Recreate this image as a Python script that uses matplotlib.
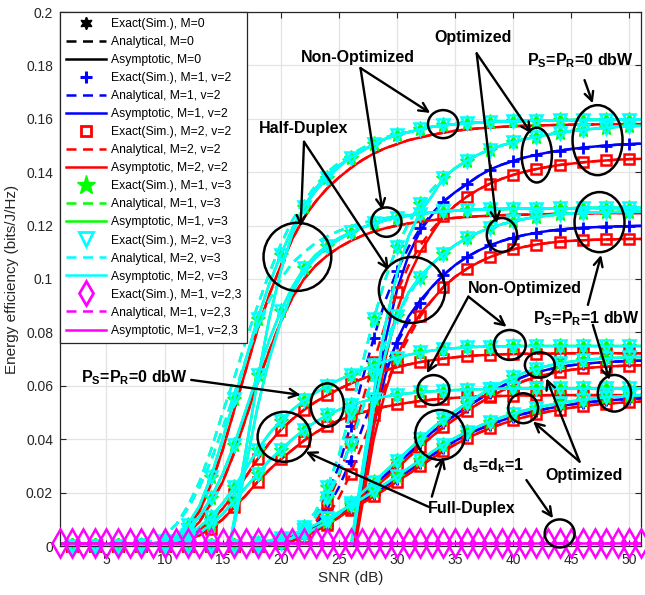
import numpy as np
import matplotlib
matplotlib.use('Agg')
import matplotlib.pyplot as plt
from matplotlib.lines import Line2D
from matplotlib.patches import Ellipse

plt.rcParams['font.family'] = ['Liberation Sans', 'DejaVu Sans']
plt.rcParams['mathtext.fontset'] = 'custom'
plt.rcParams['mathtext.rm'] = 'Liberation Sans'
plt.rcParams['mathtext.bf'] = 'Liberation Sans:bold'
plt.rcParams['mathtext.it'] = 'Liberation Sans:italic'

nan = np.nan
# ---------------- data (SNR = 1..51 dB) ----------------
snr = np.arange(1, 52)

# Half-duplex, non-optimized (upper, P=0 dBW)
g1_sim = [0, 0, 0, 0, 0, 0, 0, 0.0005, 0.001, 0.002,
          0.004, 0.008, 0.015, 0.026, 0.040, 0.055, 0.070, 0.085, 0.098, 0.109,
          0.119, 0.127, 0.133, 0.138, 0.142, 0.1455, 0.148, 0.1505, 0.1525, 0.154,
          0.155, 0.156, 0.157, 0.1575, 0.158, 0.1583, 0.1586, 0.1588, 0.159, 0.1591,
          0.1592, 0.1593, 0.1594, 0.1595, 0.1595, 0.1596, 0.1596, 0.1597, 0.1597, 0.1597, 0.1597]
g1_ana = [0, 0, 0, 0, 0, 0, 0, 0.001, 0.002, 0.004,
          0.008, 0.015, 0.024, 0.036, 0.050, 0.063, 0.077, 0.090, 0.102, 0.113,
          0.122, 0.129, 0.135, 0.140, 0.1435, 0.1465, 0.149, 0.151, 0.153, 0.1545,
          0.155, 0.156, 0.157, 0.1575, 0.158, 0.1583, 0.1586, 0.1588, 0.159, 0.1591,
          0.1592, 0.1593, 0.1594, 0.1595, 0.1595, 0.1596, 0.1596, 0.1597, 0.1597, 0.1597, 0.1597]
g1_red = [0, 0, 0, 0, 0, 0, 0, 0, 0.0005, 0.001,
          0.003, 0.007, 0.013, 0.023, 0.036, 0.051, 0.066, 0.081, 0.094, 0.105,
          0.115, 0.123, 0.129, 0.134, 0.138, 0.1415, 0.1445, 0.147, 0.149, 0.1505,
          0.152, 0.153, 0.154, 0.1548, 0.1555, 0.156, 0.1564, 0.1567, 0.157, 0.1572,
          0.1574, 0.1575, 0.1576, 0.1577, 0.1578, 0.1579, 0.1579, 0.158, 0.158, 0.158, 0.158]
hd_asy1 = [nan] * 14 + [
          -0.014, 0.010, 0.036, 0.062, 0.085, 0.103,
          0.117, 0.127, 0.134, 0.139, 0.1425, 0.1455, 0.148, 0.1505, 0.1525, 0.154,
          0.155, 0.156, 0.157, 0.1575, 0.158, 0.1583, 0.1586, 0.1588, 0.159, 0.1591,
          0.1592, 0.1593, 0.1594, 0.1595, 0.1595, 0.1596, 0.1596, 0.1597, 0.1597, 0.1597, 0.1597]

# Half-duplex, non-optimized (lower)
g2_sim = [0, 0, 0, 0, 0, 0, 0, 0, 0.0005, 0.001,
          0.003, 0.006, 0.011, 0.018, 0.027, 0.038, 0.051, 0.064, 0.077, 0.088,
          0.097, 0.104, 0.109, 0.1125, 0.1153, 0.1175, 0.1193, 0.1208, 0.122, 0.123,
          0.1238, 0.1244, 0.1249, 0.1253, 0.1256, 0.1258, 0.126, 0.1261, 0.1262, 0.1263,
          0.1264, 0.1264, 0.1265, 0.1265, 0.1265, 0.1266, 0.1266, 0.1266, 0.1266, 0.1266, 0.1266]
g2_ana = [0, 0, 0, 0, 0, 0, 0, 0.0005, 0.002, 0.004,
          0.008, 0.014, 0.022, 0.032, 0.044, 0.057, 0.070, 0.082, 0.092, 0.100,
          0.106, 0.110, 0.1135, 0.116, 0.118, 0.1197, 0.121, 0.122, 0.1228, 0.1234,
          0.1238, 0.1244, 0.1249, 0.1253, 0.1256, 0.1258, 0.126, 0.1261, 0.1262, 0.1263,
          0.1264, 0.1264, 0.1265, 0.1265, 0.1265, 0.1266, 0.1266, 0.1266, 0.1266, 0.1266, 0.1266]
g2_red = [0, 0, 0, 0, 0, 0, 0, 0, 0, 0.0005,
          0.002, 0.005, 0.009, 0.016, 0.024, 0.035, 0.048, 0.061, 0.073, 0.084,
          0.093, 0.100, 0.105, 0.1088, 0.1118, 0.1142, 0.1162, 0.1178, 0.119, 0.120,
          0.1208, 0.1215, 0.122, 0.1225, 0.1229, 0.1232, 0.1235, 0.1237, 0.1239, 0.124,
          0.1241, 0.1242, 0.1243, 0.1244, 0.1245, 0.1245, 0.1246, 0.1246, 0.1247, 0.1247, 0.1247]
hd_asy2 = [nan] * 14 + [
          -0.012, 0.008, 0.030, 0.052, 0.070, 0.084,
          0.095, 0.103, 0.108, 0.112, 0.1148, 0.1172, 0.1192, 0.1207, 0.122, 0.123,
          0.1238, 0.1244, 0.1249, 0.1253, 0.1256, 0.1258, 0.126, 0.1261, 0.1262, 0.1263,
          0.1264, 0.1264, 0.1265, 0.1265, 0.1265, 0.1266, 0.1266, 0.1266, 0.1266, 0.1266, 0.1266]

# Full-duplex, non-optimized
g3_sim = [0, 0, 0, 0, 0, 0, 0, 0, 0.0005, 0.001,
          0.002, 0.004, 0.007, 0.011, 0.016, 0.022, 0.029, 0.036, 0.042, 0.047,
          0.051, 0.0545, 0.0575, 0.060, 0.0622, 0.0642, 0.066, 0.0677, 0.0692, 0.0705,
          0.0716, 0.0725, 0.0732, 0.0737, 0.0741, 0.0744, 0.0746, 0.0747, 0.0748, 0.0748,
          0.0749, 0.0749, 0.0749, 0.0749, 0.0749, 0.0749, 0.0749, 0.0749, 0.0749, 0.0749, 0.0749]
g3_red = [0, 0, 0, 0, 0, 0, 0, 0, 0, 0.0005,
          0.0015, 0.003, 0.006, 0.0095, 0.014, 0.0195, 0.026, 0.0325, 0.0385, 0.0435,
          0.0475, 0.051, 0.054, 0.0565, 0.0588, 0.0608, 0.0626, 0.0643, 0.0658, 0.067,
          0.068, 0.0689, 0.0696, 0.0702, 0.0707, 0.0711, 0.0714, 0.0716, 0.0718, 0.0719,
          0.072, 0.072, 0.0721, 0.0721, 0.0722, 0.0722, 0.0722, 0.0722, 0.0722, 0.0722, 0.0722]
g4_sim = [0, 0, 0, 0, 0, 0, 0, 0, 0.0005, 0.001,
          0.002, 0.003, 0.005, 0.008, 0.012, 0.017, 0.022, 0.027, 0.032, 0.036,
          0.040, 0.0435, 0.0465, 0.049, 0.051, 0.0527, 0.054, 0.0551, 0.056, 0.0567,
          0.0572, 0.0576, 0.0579, 0.0582, 0.0584, 0.0586, 0.0587, 0.0588, 0.0589, 0.059,
          0.059, 0.059, 0.059, 0.059, 0.059, 0.059, 0.059, 0.059, 0.059, 0.059, 0.059]
g4_red = [0, 0, 0, 0, 0, 0, 0, 0, 0, 0.0005,
          0.0015, 0.0025, 0.004, 0.0065, 0.010, 0.0145, 0.019, 0.024, 0.0285, 0.0325,
          0.036, 0.0395, 0.0425, 0.045, 0.047, 0.0487, 0.050, 0.0512, 0.0522, 0.053,
          0.0537, 0.0543, 0.0548, 0.0552, 0.0555, 0.0558, 0.056, 0.0561, 0.0562, 0.0563,
          0.0564, 0.0564, 0.0565, 0.0565, 0.0565, 0.0565, 0.0565, 0.0565, 0.0565, 0.0565, 0.0565]

# Half-duplex, optimized (upper)
o1_blue = [0] * 19 + [0.001,
           0.003, 0.006, 0.011, 0.019, 0.030, 0.045, 0.062, 0.078, 0.092, 0.103,
           0.112, 0.119, 0.1245, 0.129, 0.1325, 0.1355, 0.1385, 0.141, 0.1428, 0.1442,
           0.1455, 0.1465, 0.1474, 0.1481, 0.1487, 0.1492, 0.1496, 0.150, 0.1503, 0.1505, 0.1507]
o1_red = [0] * 19 + [0.001,
          0.002, 0.005, 0.009, 0.016, 0.026, 0.039, 0.054, 0.069, 0.083, 0.095,
          0.105, 0.1125, 0.1185, 0.1235, 0.1275, 0.1308, 0.1335, 0.1357, 0.1375, 0.139,
          0.1402, 0.1412, 0.142, 0.1427, 0.1432, 0.1437, 0.1441, 0.1444, 0.1447, 0.1449, 0.145]
o1_cyan = [0] * 19 + [0.001,
           0.003, 0.007, 0.013, 0.022, 0.034, 0.050, 0.068, 0.085, 0.100, 0.112,
           0.121, 0.128, 0.1335, 0.138, 0.1415, 0.1443, 0.1466, 0.1485, 0.150, 0.1513,
           0.1524, 0.1533, 0.1541, 0.1548, 0.1554, 0.1559, 0.1563, 0.1567, 0.157, 0.1572, 0.1574]
o1_blue_asy = [nan] * 25 + [-0.004, 0.024, 0.052, 0.077, 0.096,
               0.109, 0.118, 0.124, 0.129, 0.1325, 0.1355, 0.1385, 0.141, 0.1428, 0.1442,
               0.1455, 0.1465, 0.1474, 0.1481, 0.1487, 0.1492, 0.1496, 0.150, 0.1503, 0.1505, 0.1507]
o1_red_asy = [nan] * 25 + [-0.008, 0.018, 0.045, 0.070, 0.088,
              0.101, 0.110, 0.117, 0.1235, 0.1275, 0.1308, 0.1335, 0.1357, 0.1375, 0.139,
              0.1402, 0.1412, 0.142, 0.1427, 0.1432, 0.1437, 0.1441, 0.1444, 0.1447, 0.1449, 0.145]
o1_cyan_asy = [nan] * 25 + [-0.001, 0.028, 0.057, 0.083, 0.102,
               0.116, 0.125, 0.131, 0.138, 0.1415, 0.1443, 0.1466, 0.1485, 0.150, 0.1513,
               0.1524, 0.1533, 0.1541, 0.1548, 0.1554, 0.1559, 0.1563, 0.1567, 0.157, 0.1572, 0.1574]

# Half-duplex, optimized (lower)
o2_blue = [0] * 19 + [0.001,
           0.002, 0.004, 0.008, 0.014, 0.022, 0.032, 0.044, 0.056, 0.067, 0.076,
           0.084, 0.091, 0.097, 0.1015, 0.1052, 0.1082, 0.1106, 0.1126, 0.1142, 0.1155,
           0.1165, 0.1173, 0.118, 0.1185, 0.1189, 0.1192, 0.1194, 0.1196, 0.1197, 0.1198, 0.1199]
o2_red = [0] * 19 + [0.001,
          0.002, 0.003, 0.006, 0.011, 0.018, 0.027, 0.038, 0.049, 0.060, 0.070,
          0.078, 0.086, 0.092, 0.097, 0.1008, 0.1038, 0.1062, 0.1082, 0.1098, 0.1111,
          0.1121, 0.1129, 0.1135, 0.114, 0.1143, 0.1145, 0.1147, 0.1148, 0.1149, 0.115, 0.115]
o2_cyan = [0] * 19 + [0.001,
           0.003, 0.006, 0.011, 0.018, 0.027, 0.038, 0.051, 0.064, 0.076, 0.086,
           0.094, 0.1005, 0.1055, 0.1095, 0.1127, 0.1153, 0.1174, 0.1191, 0.1205, 0.1216,
           0.1225, 0.1232, 0.1238, 0.1242, 0.1245, 0.1247, 0.1249, 0.125, 0.1251, 0.1252, 0.1252]
o2_blue_asy = [nan] * 25 + [-0.006, 0.020, 0.045, 0.064, 0.077,
               0.086, 0.092, 0.097, 0.1015, 0.1052, 0.1082, 0.1106, 0.1126, 0.1142, 0.1155,
               0.1165, 0.1173, 0.118, 0.1185, 0.1189, 0.1192, 0.1194, 0.1196, 0.1197, 0.1198, 0.1199]
o2_red_asy = [nan] * 25 + [-0.010, 0.015, 0.040, 0.058, 0.071,
              0.080, 0.087, 0.092, 0.097, 0.1008, 0.1038, 0.1062, 0.1082, 0.1098, 0.1111,
              0.1121, 0.1129, 0.1135, 0.114, 0.1143, 0.1145, 0.1147, 0.1148, 0.1149, 0.115, 0.115]
o2_cyan_asy = [nan] * 25 + [-0.003, 0.025, 0.052, 0.072, 0.086,
               0.095, 0.101, 0.1055, 0.1095, 0.1127, 0.1153, 0.1174, 0.1191, 0.1205, 0.1216,
               0.1225, 0.1232, 0.1238, 0.1242, 0.1245, 0.1247, 0.1249, 0.125, 0.1251, 0.1252, 0.1252]

# Full-duplex, optimized
o3_cyan = [0] * 18 + [0.001, 0.002,
           0.003, 0.0045, 0.0065, 0.009, 0.012, 0.016, 0.020, 0.024, 0.028, 0.032,
           0.036, 0.040, 0.044, 0.0475, 0.0505, 0.0535, 0.0562, 0.0588, 0.0612, 0.0632,
           0.065, 0.0664, 0.0675, 0.0684, 0.0691, 0.0696, 0.070, 0.0703, 0.0705, 0.0707, 0.0708]
o3_blue = [0] * 18 + [0.0008, 0.0015,
           0.0025, 0.004, 0.006, 0.0085, 0.0113, 0.015, 0.0188, 0.0226, 0.0265, 0.0305,
           0.0345, 0.0385, 0.0425, 0.046, 0.049, 0.052, 0.0548, 0.0574, 0.0598, 0.0618,
           0.0636, 0.065, 0.0661, 0.067, 0.0677, 0.0682, 0.0686, 0.0689, 0.0691, 0.0693, 0.0694]
o3_red = [0] * 18 + [0.0005, 0.001,
          0.002, 0.0035, 0.0055, 0.008, 0.0107, 0.0142, 0.0178, 0.0215, 0.0253, 0.0292,
          0.0332, 0.0372, 0.041, 0.0445, 0.0476, 0.0505, 0.0533, 0.0558, 0.0581, 0.0601,
          0.0619, 0.0633, 0.0644, 0.0653, 0.066, 0.0665, 0.0669, 0.0672, 0.0674, 0.0676, 0.0677]
o4_cyan = [0] * 17 + [0.001, 0.002, 0.003,
           0.0045, 0.006, 0.008, 0.0103, 0.0127, 0.0152, 0.0178, 0.0205, 0.0233, 0.0262,
           0.0292, 0.0322, 0.0352, 0.038, 0.0405, 0.0428, 0.0448, 0.0466, 0.0482, 0.0496,
           0.0508, 0.0518, 0.0527, 0.0535, 0.0542, 0.0548, 0.0553, 0.0557, 0.056, 0.0563, 0.0565]
o4_blue = [0] * 17 + [0.0008, 0.0015, 0.0025,
           0.004, 0.0055, 0.0073, 0.0095, 0.0118, 0.0143, 0.0169, 0.0196, 0.0223, 0.0252,
           0.0282, 0.0311, 0.034, 0.0368, 0.0393, 0.0416, 0.0436, 0.0454, 0.047, 0.0484,
           0.0496, 0.0506, 0.0515, 0.0523, 0.053, 0.0536, 0.0541, 0.0545, 0.0548, 0.0551, 0.0553]
o4_red = [0] * 17 + [0.0005, 0.001, 0.002,
          0.0033, 0.0048, 0.0065, 0.0087, 0.011, 0.0134, 0.016, 0.0186, 0.0213, 0.0241,
          0.027, 0.0299, 0.0328, 0.0355, 0.038, 0.0403, 0.0423, 0.0441, 0.0457, 0.0471,
          0.0483, 0.0494, 0.0503, 0.0511, 0.0518, 0.0524, 0.0529, 0.0533, 0.0536, 0.0539, 0.0541]

# d_s = d_k = 1 (M=1, v=2,3)
mag = [0.001, 0.001, 0.001, 0.001, 0.001, 0.001, 0.001, 0.001, 0.001, 0.001,
       0.001, 0.001, 0.001, 0.001, 0.001, 0.001, 0.001, 0.001, 0.001, 0.001,
       0.001, 0.001, 0.001, 0.001, 0.001, 0.001, 0.001, 0.001, 0.001, 0.001,
       0.001, 0.001, 0.001, 0.001, 0.001, 0.001, 0.001, 0.001, 0.001, 0.001,
       0.001, 0.001, 0.001, 0.001, 0.001, 0.001, 0.001, 0.001, 0.001, 0.001, 0.001]

legend_labels = ['Exact(Sim.), M=0', 'Analytical, M=0', 'Asymptotic, M=0',
                 'Exact(Sim.), M=1, v=2', 'Analytical, M=1, v=2', 'Asymptotic, M=1, v=2',
                 'Exact(Sim.), M=2, v=2', 'Analytical, M=2, v=2', 'Asymptotic, M=2, v=2',
                 'Exact(Sim.), M=1, v=3', 'Analytical, M=1, v=3', 'Asymptotic, M=1, v=3',
                 'Exact(Sim.), M=2, v=3', 'Analytical, M=2, v=3', 'Asymptotic, M=2, v=3',
                 'Exact(Sim.), M=1, v=2,3', 'Analytical, M=1, v=2,3', 'Asymptotic, M=1, v=2,3']

# ---------------- figure ----------------
BLK, BLU, RED, GRN, CYN, MAG = 'k', '#0000ff', '#ff0000', '#00ff00', '#00ffff', '#ff00ff'
LW = 1.8
DASH = (4, 2.6)

fig = plt.figure(figsize=(6.45, 5.95), dpi=100)
ax = fig.add_axes([60 / 645, 1 - 546 / 595, 581 / 645, 534 / 595])


def line(y, c, dashed, z):
    kw = dict(dashes=DASH) if dashed else {}
    ax.plot(snr, np.array(y, float), color=c, lw=LW, zorder=z, solid_capstyle='butt', **kw)


def marks(y, c, m, ms, fill, z, every=(1, 2), mew=1.5):
    ax.plot(snr, np.array(y, float), ls='none', marker=m, ms=ms, mfc=fill, mec=c,
            mew=mew, markevery=every, zorder=z, clip_on=False)


# blue (M=1, v=2)
for y, ya in [(o1_blue, o1_blue_asy), (o2_blue, o2_blue_asy), (o3_blue, o3_blue), (o4_blue, o4_blue)]:
    line(y, BLU, True, 2.10)
    line(ya, BLU, False, 2.10)
    marks(y, BLU, '+', 8, BLU, 2.11, mew=2)

# red (M=2, v=2)
for y, ya in [(g1_red, g1_red), (g2_red, g2_red), (g3_red, g3_red), (g4_red, g4_red),
              (o1_red, o1_red_asy), (o2_red, o2_red_asy), (o3_red, o3_red), (o4_red, o4_red)]:
    line(y, RED, True, 2.20)
    line(ya, RED, False, 2.20)
for y in [g3_red, g4_red, o1_red, o2_red, o3_red, o4_red]:
    marks(y, RED, 's', 6.5, 'none', 2.21, mew=1.8)

# green (M=1, v=3) and cyan (M=2, v=3)
sims = [g1_sim, g2_sim, g3_sim, g4_sim, o1_cyan, o2_cyan, o3_cyan, o4_cyan]
for c, z in [(GRN, 2.30), (CYN, 2.40)]:
    line(g1_ana, c, True, z)
    line(g2_ana, c, True, z)
    line(o1_cyan, c, True, z)
    line(o2_cyan, c, True, z)
    for y in [g1_sim, g2_sim, g3_sim, g4_sim, o3_cyan, o4_cyan, hd_asy1, hd_asy2,
              o1_cyan_asy, o2_cyan_asy]:
        line(y, c, False, z)
for y in sims:
    marks(y, GRN, '*', 11, GRN, 2.31, mew=1)
for y in sims:
    marks(y, CYN, 'v', 9, 'none', 2.41, mew=1.8)

# magenta (M=1, v=2,3)
line(mag, MAG, True, 2.50)
line(mag, MAG, False, 2.50)
marks(mag, MAG, 'd', 14, 'none', 2.51, every=1, mew=1.8)

# ---------------- axes styling ----------------
ax.set_xlim(1, 51)
ax.set_ylim(0, 0.2)
ax.set_xticks([5, 10, 15, 20, 25, 30, 35, 40, 45, 50])
ax.set_yticks([0, 0.02, 0.04, 0.06, 0.08, 0.1, 0.12, 0.14, 0.16, 0.18, 0.2])
ax.set_yticklabels(['0', '0.02', '0.04', '0.06', '0.08', '0.1', '0.12', '0.14', '0.16', '0.18', '0.2'])
ax.tick_params(direction='in', top=True, right=True, length=4, width=0.8,
               labelsize=10, colors='#262626', pad=5)
ax.grid(True, color='#e3e3e3', lw=0.9, zorder=0)
ax.set_axisbelow(True)
for s in ax.spines.values():
    s.set_color('#262626')
    s.set_linewidth(0.9)
ax.set_xlabel('SNR (dB)', fontsize=11, color='#262626', labelpad=3)
ax.set_ylabel('Energy efficiency (bits/J/Hz)', fontsize=11, color='#262626', labelpad=5)

# ---------------- legend ----------------
handles = [
    Line2D([], [], ls='none', marker=(6, 1, 0), ms=9, color=BLK),
    Line2D([], [], color=BLK, lw=LW, dashes=DASH),
    Line2D([], [], color=BLK, lw=LW),
    Line2D([], [], ls='none', marker='+', ms=9, mew=2.2, color=BLU),
    Line2D([], [], color=BLU, lw=LW, dashes=DASH),
    Line2D([], [], color=BLU, lw=LW),
    Line2D([], [], ls='none', marker='s', ms=7, mew=2, mfc='none', color=RED),
    Line2D([], [], color=RED, lw=LW, dashes=DASH),
    Line2D([], [], color=RED, lw=LW),
    Line2D([], [], ls='none', marker='*', ms=14, color=GRN),
    Line2D([], [], color=GRN, lw=LW, dashes=DASH),
    Line2D([], [], color=GRN, lw=LW),
    Line2D([], [], ls='none', marker='v', ms=10, mew=2, mfc='none', color=CYN),
    Line2D([], [], color=CYN, lw=LW, dashes=DASH),
    Line2D([], [], color=CYN, lw=LW),
    Line2D([], [], ls='none', marker='d', ms=12, mew=2, mfc='none', color=MAG),
    Line2D([], [], color=MAG, lw=LW, dashes=DASH),
    Line2D([], [], color=MAG, lw=LW),
]
leg = ax.legend(handles, legend_labels, loc='upper left', bbox_to_anchor=(0, 1),
                borderaxespad=0, fontsize=8.7, handlelength=3.3, handletextpad=0.4,
                labelspacing=0.5, borderpad=0.5, fancybox=False, framealpha=1,
                edgecolor='#262626')
leg.get_frame().set_linewidth(0.9)
leg.set_zorder(10)

# ---------------- annotations ----------------
P0 = r'P$_\mathbf{S}$=P$_\mathbf{R}$=0 dbW'
P1 = r'P$_\mathbf{S}$=P$_\mathbf{R}$=1 dbW'
DK = r'd$_\mathbf{s}$=d$_\mathbf{k}$=1'
texts = [
    ('Non-Optimized', 26.64, 0.1813),
    ('Optimized', 36.57, 0.1887),
    (P0, 45.78, 0.1801),
    ('Half-Duplex', 21.97, 0.1547),
    ('Non-Optimized', 41.0, 0.0947),
    (P1, 46.3, 0.0835),
    ('Optimized', 46.14, 0.0247),
    (DK, 38.3, 0.0285),
    ('Full-Duplex', 36.4, 0.0124),
    (P0, 7.4, 0.0614),
]
for t, x, y in texts:
    ax.text(x, y, t, ha='center', va='baseline', fontsize=11.5, fontweight='bold',
            color='k', zorder=6)

arrows = [
    ((26.86, 0.179), (32.86, 0.1622)), ((26.86, 0.179), (28.74, 0.1258)),
    ((36.86, 0.1845), (41.57, 0.1545)), ((36.86, 0.1845), (38.57, 0.1209)),
    ((46.14, 0.1745), (46.85, 0.1658)),
    ((22.0, 0.1514), (21.71, 0.1196)), ((22.0, 0.1514), (29.29, 0.1034)),
    ((36.14, 0.0934), (32.57, 0.0647)), ((36.14, 0.0934), (39.43, 0.0821)),
    ((46.86, 0.0828), (48.29, 0.0622)), ((46.43, 0.0903), (47.57, 0.109)),
    ((45.71, 0.0316), (42.86, 0.0628)), ((45.71, 0.0316), (41.71, 0.0466)),
    ((41.14, 0.0247), (43.43, 0.0104)),
    ((32.71, 0.0147), (22.14, 0.0353)), ((33.0, 0.0185), (34.0, 0.0334)),
    ((12.29, 0.0622), (21.71, 0.0566)),
]
for (x0, y0), (x1, y1) in arrows:
    ax.annotate('', xy=(x1, y1), xytext=(x0, y0), zorder=6,
                arrowprops=dict(arrowstyle='->', lw=1.7, color='k', mutation_scale=16,
                                shrinkA=0, shrinkB=0))

ellipses = [
    (33.97, 0.158, 2.6, 0.0105), (29.09, 0.1213, 2.6, 0.011),
    (42.03, 0.1464, 2.6, 0.0205), (39.03, 0.1165, 2.6, 0.0127),
    (47.26, 0.152, 4.3, 0.0262), (47.43, 0.1213, 4.3, 0.0225),
    (21.43, 0.1083, 5.83, 0.0255), (31.29, 0.0959, 5.7, 0.0247),
    (39.71, 0.0753, 2.74, 0.0112), (33.14, 0.0584, 2.74, 0.0112),
    (48.71, 0.0572, 2.86, 0.0137),
    (42.29, 0.0678, 2.57, 0.0095), (40.86, 0.0516, 2.57, 0.0112),
    (44.0, 0.0047, 2.57, 0.0105),
    (20.29, 0.0409, 4.57, 0.0187), (33.71, 0.0416, 4.29, 0.0187),
    (24.0, 0.0528, 2.86, 0.0162),
]
for x, y, w, h in ellipses:
    ax.add_patch(Ellipse((x, y), w, h, fill=False, ec='k', lw=1.8, zorder=6, clip_on=False))

fig.savefig('out.png', dpi=100)
